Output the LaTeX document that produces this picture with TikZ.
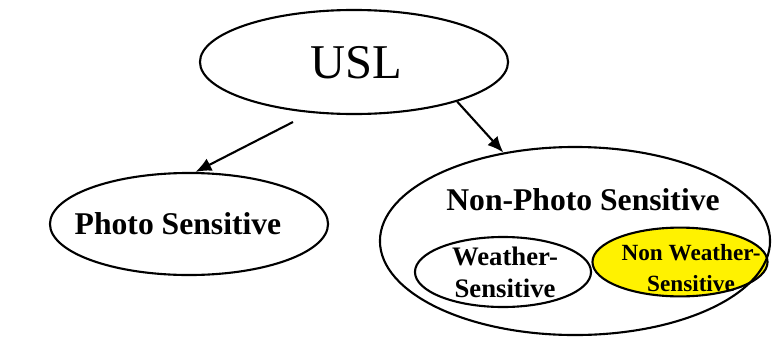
\documentclass[tikz,border=0pt]{standalone}
\usepackage{fontspec}
\setmainfont{Liberation Serif}
\usetikzlibrary{shapes.geometric,arrows.meta}

\begin{document}
\begin{tikzpicture}[x=0.025cm,y=-0.025cm,
    ell/.style={ellipse,draw,line width=1.5pt,inner sep=0pt},
    lbl/.style={font=\bfseries\fontsize{22.5}{27}\selectfont},
    sml/.style={font=\bfseries\fontsize{19}{22.8}\selectfont,align=center},
    arr/.style={line width=1.5pt,-{Latex[length=4mm,width=3.4mm]}}]
              \useasboundingbox (0,0) rectangle (780,336);
              \node[ell,minimum width=7.7cm,minimum height=2.6cm](usl)at(354,62){};
              \node[ell,minimum width=6.95cm,minimum height=2.55cm](photo)at(189,224){};
              \node[ell,minimum width=4.4cm,minimum height=1.75cm](weather)at(503,272){};
              \node[ell,fill=yellow,minimum width=4.375cm,minimum height=1.72cm](nonweather)at(680,262){};
              \node[ell,minimum width=9.75cm,minimum height=4.7cm](nonphoto)at(575,241){};
              \node[font=\fontsize{34.5}{40}\selectfont](usltext)at(356,63){USL};
              \node[lbl](phototext)at(178,224){Photo Sensitive};
              \node[lbl](nonphototext)at(583,200){Non-Photo Sensitive};
              \node[sml](weathertext)at(505,272){Weather-\\Sensitive};
              \node[sml,font=\bfseries\fontsize{16.5}{21.5}\selectfont](nonweathertext)at(691,268){Non Weather-\\Sensitive};
              \coordinate (start)at(293,122);
              \draw[arr](start)--(photo.83);
              \draw[arr](usl.-21)--(nonphoto.129);
            \end{tikzpicture}
\end{document}
